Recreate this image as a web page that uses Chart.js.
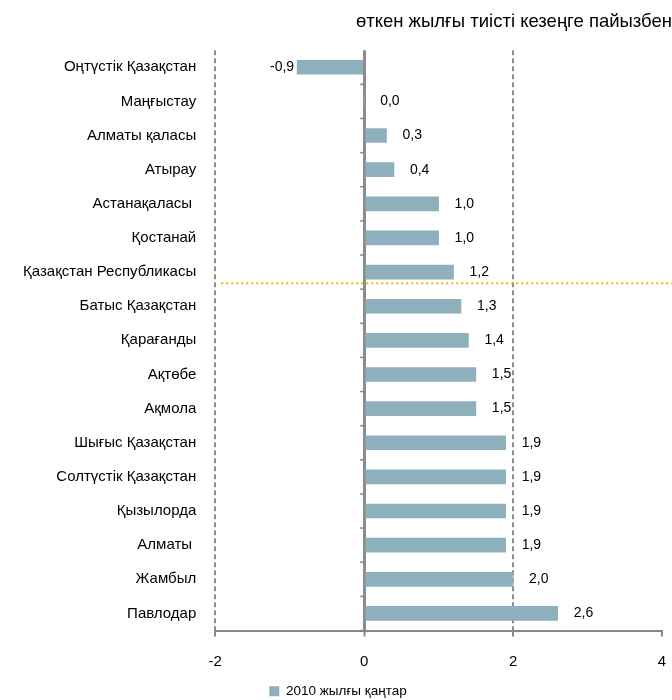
<!DOCTYPE html>
<html>
<head>
<meta charset="utf-8">
<script src="https://cdn.jsdelivr.net/npm/chart.js@4/dist/chart.umd.min.js"></script>
<style>
  body { margin: 0; background: #fff; }
  #wrap { width: 672px; height: 700px; position: relative; }
</style>
</head>
<body>
<div id="wrap"><canvas id="myChart"></canvas></div>
<script>
// regions, top to bottom
var regions = ['Оңтүстік Қазақстан', 'Маңғыстау', 'Алматы қаласы', 'Атырау', 'Астанақаласы ',
  'Қостанай', 'Қазақстан Республикасы', 'Батыс Қазақстан', 'Қарағанды', 'Ақтөбе', 'Ақмола',
  'Шығыс Қазақстан', 'Солтүстік Қазақстан', 'Қызылорда', 'Алматы ', 'Жамбыл', 'Павлодар'];
var values = [-0.9, 0.0, 0.3, 0.4, 1.0, 1.0, 1.2, 1.3, 1.4, 1.5, 1.5, 1.9, 1.9, 1.9, 1.9, 2.0, 2.6];
var xTicks = [-2, 0, 2, 4];
var seriesName = '2010 жылғы қаңтар';
var titleText = 'өткен жылғы тиісті кезеңге пайызбен';
var refRow = 'Қазақстан Республикасы'; // dotted line sits just under this row

var font = '"Liberation Sans", Arial, sans-serif';

// value labels + little ticks on the zero axis + orange dotted line
var extras = {
  id: 'extras',
  afterDatasetsDraw: function(chart) {
    var c = chart.ctx, x = chart.scales.x, y = chart.scales.y;
    var meta = chart.getDatasetMeta(0);
    c.save();
    c.font = '14px ' + font;
    c.fillStyle = '#000';
    c.textBaseline = 'middle';
    meta.data.forEach(function(bar, i) {
      var v = values[i];
      var txt = v.toFixed(1).replace('.', ',');
      if (v < 0) {
        c.textAlign = 'right';
        c.fillText(txt, bar.x - 3, bar.y);
      } else {
        c.textAlign = 'left';
        c.fillText(txt, bar.x + 16, bar.y);
      }
    });
    // small ticks on zero line between categories
    var x0 = x.getPixelForValue(0);
    var step = y.getPixelForValue(1) - y.getPixelForValue(0);
    c.strokeStyle = '#888';
    c.lineWidth = 1.5;
    for (var i = 0; i < regions.length; i++) {
      var yy = y.getPixelForValue(i) + step / 2;
      c.beginPath();
      c.moveTo(x0 - 4, yy);
      c.lineTo(x0, yy);
      c.stroke();
    }
    // orange dotted line
    var k = regions.indexOf(refRow);
    var ly = y.getPixelForValue(k) + step * 0.33;
    c.strokeStyle = '#F0B400';
    c.lineWidth = 2;
    c.setLineDash([2, 3]);
    c.beginPath();
    c.moveTo(chart.chartArea.left + 6, ly);
    c.lineTo(chart.width, ly);
    c.stroke();
    c.restore();
  }
};

var ctx = document.getElementById('myChart').getContext('2d');
var chart = new Chart(ctx, {
  type: 'bar',
  data: {
    labels: regions,
    datasets: [{
      label: seriesName,
      data: values,
      backgroundColor: '#8EAFBC',
      borderWidth: 0,
      barThickness: 14
    }]
  },
  options: {
    indexAxis: 'y',
    responsive: true,
    maintainAspectRatio: false,
    animation: false,
    layout: { padding: { left: 4, right: 0, top: 0, bottom: -8 } },
    scales: {
      x: {
        min: xTicks[0],
        max: xTicks[xTicks.length - 1],
        afterBuildTicks: function(s) { s.ticks = xTicks.map(function(v) { return { value: v }; }); },
        afterFit: function(s) { s.height -= 4; s.paddingRight = 10; },
        ticks: { color: '#000', font: { family: font, size: 15 }, padding: 16 },
        grid: {
          color: function(c) {
            if (!c.tick) return '#888';
            return c.tick.value === 4 ? 'rgba(0,0,0,0)' : '#8c8c8c';
          },
          lineWidth: function(c) { return c.tick && c.tick.value === 0 ? 3 : 2; },
          tickColor: '#888',
          tickWidth: 2,
          tickLength: 6
        },
        border: {
          color: '#888',
          width: 2,
          dash: function(c) { return c.tick && c.tick.value !== 0 ? [5, 3] : []; }
        }
      },
      y: {
        ticks: { color: '#000', font: { family: font, size: 15 }, padding: 19 },
        grid: { display: false, drawTicks: false },
        border: { display: false }
      }
    },
    plugins: {
      title: {
        display: true,
        text: titleText,
        align: 'end',
        color: '#000',
        font: { family: font, size: 18.5, weight: 'normal' },
        padding: { top: 11, bottom: 17 }
      },
      legend: {
        display: true,
        position: 'bottom',
        labels: {
          color: '#000',
          font: { family: font, size: 13.5 },
          boxWidth: 10,
          boxHeight: 10,
          padding: 2
        }
      },
      tooltip: { enabled: false }
    }
  },
  plugins: [extras]
});
</script>
</body>
</html>
